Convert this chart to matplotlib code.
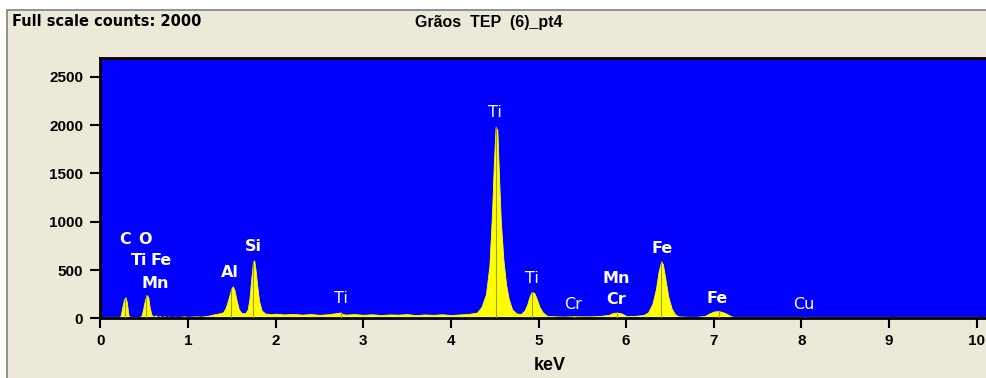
"""EDS spectrum: Grãos TEP (6)_pt4."""

import matplotlib
matplotlib.use("Agg")
import matplotlib.pyplot as plt
import matplotlib.patches as mpatches
import numpy as np

# Colours / font
WHITE = "white"
PANEL = "#ECE9D8"
FRAME = "#808080"
PLOT_BG = "#0000FF"
SPECTRUM = "#FFFF00"
MARKER = "#A0A000"
FONT = ["Liberation Sans", "DejaVu Sans"]
WIDE = ["DejaVu Sans"]

# Spectrum (keV, counts)
energy = [
    0.00, 0.10, 0.20, 0.23, 0.25, 0.27, 0.285, 0.30, 0.32, 0.34, 0.40, 0.45,
    0.47, 0.49, 0.51, 0.525, 0.545, 0.56, 0.58, 0.60, 0.63, 0.65, 0.68, 0.70,
    0.73, 0.75, 0.78, 0.80, 0.85, 0.90, 0.95, 1.00, 1.05, 1.10, 1.15, 1.20,
    1.25, 1.30, 1.35, 1.40,
    1.43, 1.46, 1.49, 1.51, 1.53, 1.55, 1.58, 1.61, 1.65,
    1.68, 1.70, 1.72, 1.74, 1.755, 1.77, 1.79, 1.81, 1.84, 1.88,
    1.95, 2.00, 2.10, 2.20, 2.30, 2.40, 2.50, 2.60, 2.74, 2.76, 2.80, 2.90,
    3.00, 3.10, 3.20, 3.30, 3.40, 3.50, 3.60, 3.70, 3.80, 3.90, 4.00, 4.10,
    4.20, 4.30,
    4.35, 4.40, 4.44, 4.47, 4.49, 4.51, 4.53, 4.55, 4.57, 4.60, 4.63, 4.66,
    4.70, 4.75, 4.80,
    4.84, 4.87, 4.90, 4.92, 4.95, 4.98, 5.01, 5.05, 5.10,
    5.20, 5.30, 5.40, 5.50, 5.60, 5.70, 5.80,
    5.85, 5.90, 5.95, 6.00, 6.10, 6.20,
    6.25, 6.30, 6.34, 6.37, 6.40, 6.42, 6.45, 6.48, 6.52, 6.56, 6.60,
    6.70, 6.80, 6.90,
    6.95, 7.00, 7.05, 7.10, 7.15, 7.20, 7.25,
    7.50, 8.00, 8.05, 8.10, 8.50, 9.00, 9.50, 10.00, 10.20,
]
counts = [
    5, 5, 6, 25, 120, 200, 218, 170, 30, 10, 12, 15,
    30, 110, 200, 240, 220, 120, 40, 18, 30, 15, 22, 12,
    20, 12, 18, 12, 16, 14, 20, 15, 18, 20, 16, 24,
    30, 42, 50, 62,
    110, 200, 300, 330, 290, 200, 90, 55, 50,
    90, 200, 400, 580, 600, 500, 330, 180, 80, 50,
    42, 48, 40, 46, 38, 44, 36, 42, 60, 45, 38, 44,
    36, 42, 34, 40, 38, 44, 33, 40, 36, 42, 34, 40,
    45, 60,
    120, 250, 550, 1100, 1600, 1980, 1950, 1450, 1000, 600, 350, 200,
    90, 50, 45,
    80, 140, 230, 270, 265, 200, 120, 60, 25,
    20, 18, 22, 20, 20, 25, 35,
    55, 60, 50, 25, 25, 35,
    60, 150, 300, 480, 590, 560, 400, 230, 100, 40, 20,
    15, 15, 25,
    50, 70, 75, 65, 45, 20, 12,
    10, 10, 15, 8, 8, 6, 6, 5, 5,
]

# Element labels (text, keV, counts, bold)
label_text = ["C", "O", "Ti", "Fe", "Mn", "Al", "Si", "Ti", "Ti", "Ti",
              "Cr", "Mn", "Cr", "Fe", "Fe", "Cu"]
label_kev = [0.28, 0.51, 0.44, 0.69, 0.63, 1.48, 1.75, 2.75, 4.50, 4.93,
             5.40, 5.89, 5.89, 6.41, 7.04, 8.03]
label_cnt = [820, 820, 595, 595, 365, 470, 740, 200, 2130, 410,
             140, 415, 190, 720, 210, 140]
label_bold = [True, True, True, True, True, True, True, False, False, False,
              False, True, True, True, True, False]

# KLM marker lines (keV)
marker_kev = [0.277, 0.525, 1.49, 1.74, 2.75, 4.51, 4.93, 5.41, 5.90,
              6.40, 7.06, 8.04]

y_ticks = [0, 500, 1000, 1500, 2000, 2500]
x_ticks = list(range(11))


def make_chart():
    W, H = 987, 378
    fig = plt.figure(figsize=(W / 100, H / 100), dpi=100)
    fig.patch.set_facecolor(WHITE)

    # Window-style panel
    panel = mpatches.Rectangle((7 / W, -0.01), 1.0, (H - 10) / H + 0.01,
                               transform=fig.transFigure, facecolor=PANEL,
                               edgecolor=FRAME, linewidth=1.2, zorder=0)
    fig.add_artist(panel)

    fig.text(12 / W, 1 - 22 / H, "Full scale counts: 2000", fontsize=10.5,
             fontweight="bold", color="black", ha="left", va="center",
             family=WIDE)
    fig.text(415 / W, 1 - 22 / H, "Grãos  TEP  (6)_pt4", fontsize=11.5,
             fontweight="bold", color="black", ha="left", va="center",
             family=FONT)

    ax = fig.add_axes([100.5 / W, (H - 318.3) / H, (W - 100.5) / W, 260.3 / H])
    ax.set_facecolor(PLOT_BG)
    ax.set_xlim(0, (W - 100.5) / 87.6)
    ax.set_ylim(0, 2695)

    ax.fill_between(energy, counts, 0, color=SPECTRUM, linewidth=0.6,
                    edgecolor=SPECTRUM, zorder=2)
    mh = np.interp(marker_kev, energy, counts)
    ax.vlines(marker_kev, 0, mh, color=MARKER, linewidth=0.8, zorder=3)
    ax.axhline(4, color=SPECTRUM, linewidth=1.5, zorder=2)

    for t, x, y, b in zip(label_text, label_kev, label_cnt, label_bold):
        ax.text(x, y, t, fontsize=11.5, color=WHITE,
                fontweight="bold" if b else "normal",
                ha="center", va="center", family=WIDE, zorder=4)

    for side in ["left", "bottom", "top"]:
        ax.spines[side].set_color("black")
        ax.spines[side].set_linewidth(2)
    ax.spines["right"].set_visible(False)

    ax.set_xticks(x_ticks)
    ax.set_yticks(y_ticks)
    ax.tick_params(axis="both", direction="out", length=7.5, width=1.5,
                   color="black", labelsize=11)
    ax.tick_params(axis="x", pad=4)
    ax.tick_params(axis="y", pad=5)
    for lab in ax.get_xticklabels() + ax.get_yticklabels():
        lab.set_fontweight("bold")
        lab.set_family(FONT)

    ax.set_xlabel("keV", fontsize=13, fontweight="bold", family=FONT)
    ax.xaxis.set_label_coords((550 - 100.5) / (W - 100.5), -0.15)

    fig.savefig("out.png", dpi=100, facecolor=WHITE)
    plt.close()


if __name__ == "__main__":
    make_chart()
